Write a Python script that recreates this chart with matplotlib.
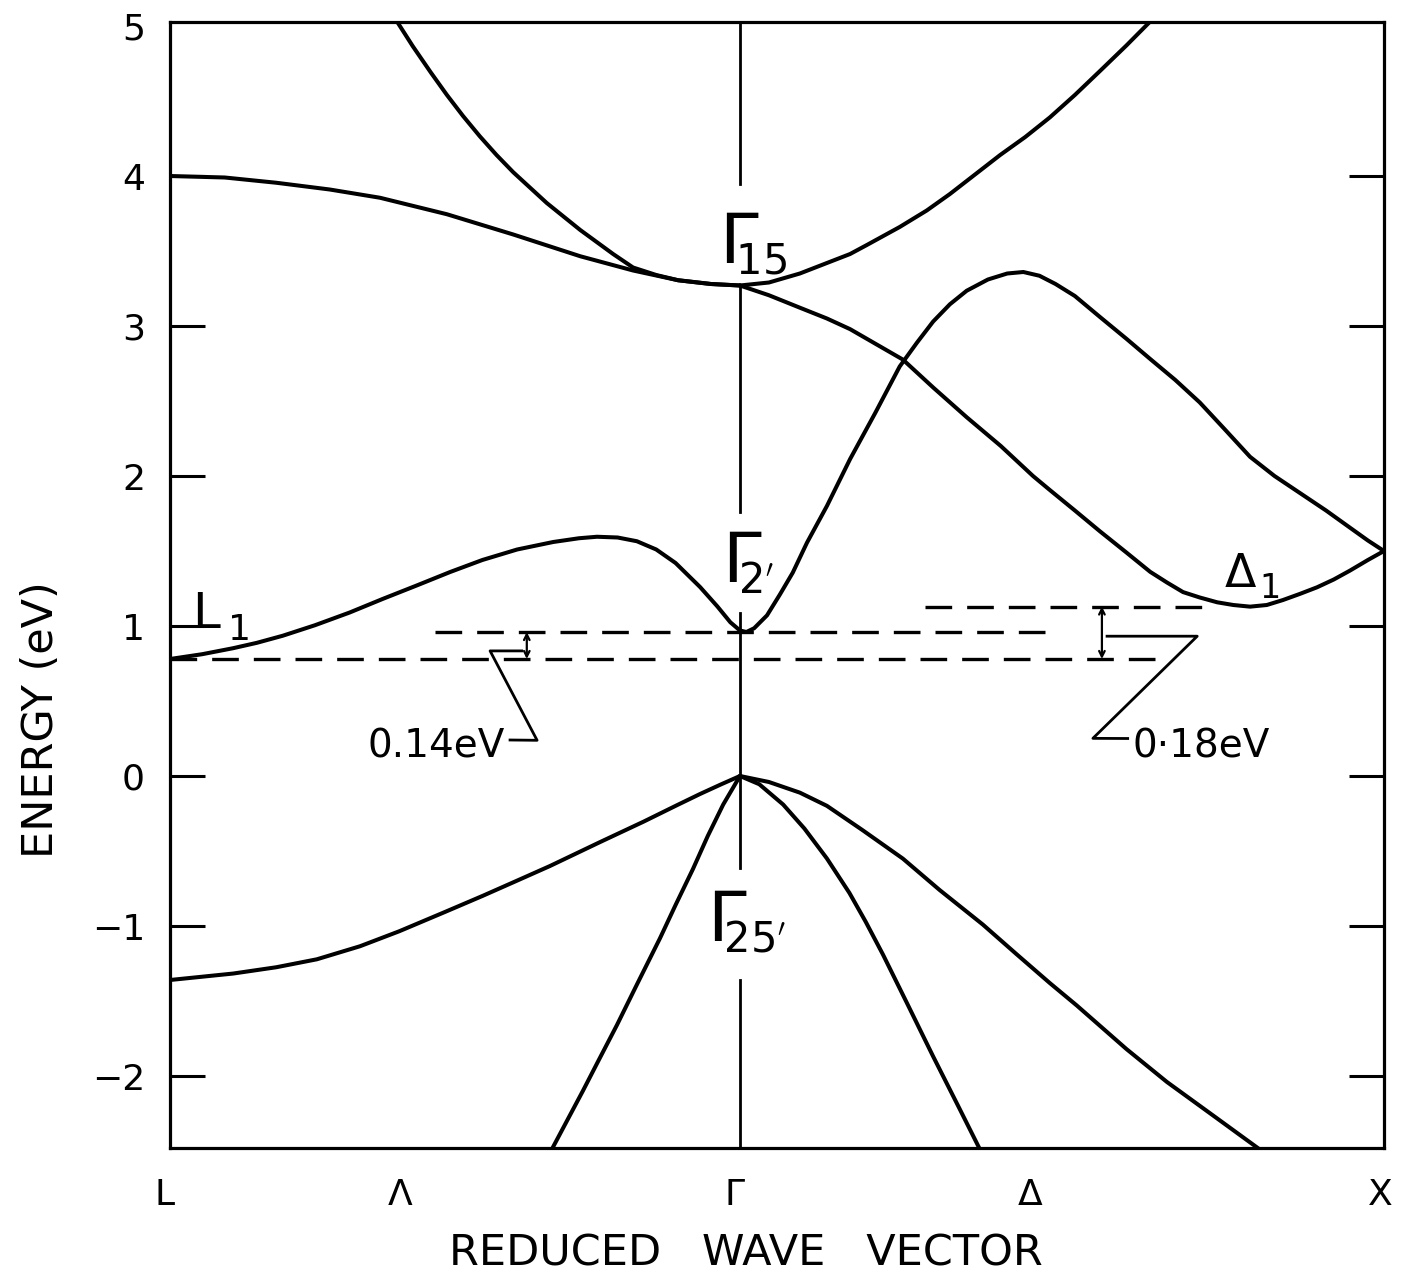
import matplotlib
matplotlib.use("Agg")
import matplotlib.pyplot as plt
import matplotlib._mathtext as mathtext_core
from matplotlib.transforms import blended_transform_factory

plt.rcParams['font.family'] = ['DejaVu Sans']
plt.rcParams['mathtext.fontset'] = 'dejavusans'
# smaller subscripts on the Gamma labels
mathtext_core.SHRINK_FACTOR = 0.6

# reduced wave vector: Gamma at 0, X at 1, L on the left
k_L = -0.885
k_X = 1.0
E_MIN, E_MAX = -2.48, 5.03

# ---- conduction bands ----
# L (4.0 eV) -> Gamma15
band_a_k = [-0.885, -0.80, -0.72, -0.637, -0.559, -0.455, -0.352, -0.248, -0.166, -0.096, -0.045, 0.0]
band_a_E = [4.00, 3.99, 3.955, 3.91, 3.855, 3.745, 3.61, 3.465, 3.37, 3.305, 3.28, 3.27]

# steep branch from the top coming into Gamma15
band_b_k = [-0.540, -0.508, -0.480, -0.455, -0.430, -0.404, -0.378, -0.352, -0.300, -0.248, -0.197, -0.166, -0.130, -0.096, -0.045, 0.0]
band_b_E = [5.08, 4.865, 4.69, 4.54, 4.40, 4.265, 4.14, 4.025, 3.82, 3.64, 3.48, 3.39, 3.34, 3.305, 3.28, 3.27]

# Gamma15 rising towards the top right
band_c_k = [0.0, 0.045, 0.093, 0.135, 0.171, 0.197, 0.248, 0.290, 0.326, 0.365, 0.404, 0.443, 0.481, 0.520, 0.559, 0.600, 0.637, 0.660]
band_c_E = [3.27, 3.29, 3.35, 3.42, 3.48, 3.54, 3.66, 3.77, 3.88, 4.01, 4.14, 4.26, 4.39, 4.54, 4.70, 4.87, 5.03, 5.13]

# Gamma15 falling through the crossing down to Delta1 and up to X
band_d_k = [0.0, 0.045, 0.093, 0.135, 0.171, 0.253, 0.300, 0.352, 0.405, 0.455, 0.481, 0.520, 0.559, 0.600, 0.637,
            0.663, 0.688, 0.714, 0.741, 0.766, 0.792, 0.818, 0.843, 0.870, 0.896, 0.922, 0.947, 0.975, 1.0]
band_d_E = [3.27, 3.205, 3.122, 3.05, 2.979, 2.776, 2.59, 2.392, 2.20, 2.00, 1.907, 1.77, 1.631, 1.49, 1.361,
            1.29, 1.226, 1.19, 1.158, 1.14, 1.129, 1.14, 1.173, 1.215, 1.258, 1.31, 1.369, 1.44, 1.50]

# L1 -> Gamma2' -> maximum on Delta -> X
band_e_k = [-0.885, -0.835, -0.787, -0.750, -0.710, -0.660, -0.606, -0.555, -0.502, -0.450, -0.400, -0.346, -0.290,
            -0.250, -0.222, -0.190, -0.160, -0.130, -0.100, -0.062, -0.035, -0.015, 0.0, 0.010, 0.022, 0.042, 0.062,
            0.082, 0.104, 0.135, 0.171, 0.210, 0.248, 0.275, 0.300, 0.326, 0.352, 0.385, 0.415, 0.440, 0.465, 0.490,
            0.520, 0.559, 0.600, 0.637, 0.676, 0.714, 0.753, 0.792, 0.830, 0.870, 0.910, 0.947, 0.975, 1.0]
band_e_E = [0.78, 0.812, 0.852, 0.888, 0.935, 1.005, 1.09, 1.18, 1.27, 1.36, 1.44, 1.51, 1.56,
            1.585, 1.595, 1.59, 1.565, 1.51, 1.42, 1.26, 1.13, 1.025, 0.97, 0.96, 0.985, 1.071, 1.21,
            1.356, 1.555, 1.80, 2.113, 2.42, 2.73, 2.89, 3.03, 3.145, 3.235, 3.31, 3.35, 3.36, 3.335, 3.28,
            3.20, 3.06, 2.915, 2.78, 2.64, 2.49, 2.31, 2.128, 2.0, 1.885, 1.77, 1.656, 1.57, 1.50]

# ---- valence bands ----
val_a_k = [-0.885, -0.787, -0.720, -0.657, -0.590, -0.529, -0.460, -0.400, -0.350, -0.295, -0.217, -0.150, -0.098, -0.062, -0.030, 0.0]
val_a_E = [-1.36, -1.317, -1.275, -1.222, -1.135, -1.035, -0.91, -0.80, -0.705, -0.60, -0.44, -0.305, -0.195, -0.12, -0.057, 0.0]

val_b_k = [0.0, -0.026, -0.050, -0.073, -0.100, -0.124, -0.160, -0.191, -0.220, -0.244, -0.270, -0.296]
val_b_E = [0.0, -0.19, -0.40, -0.62, -0.86, -1.08, -1.39, -1.66, -1.90, -2.10, -2.31, -2.52]

val_c_k = [0.0, 0.030, 0.067, 0.100, 0.135, 0.170, 0.195, 0.222, 0.260, 0.300, 0.340, 0.375]
val_c_E = [0.0, -0.055, -0.19, -0.35, -0.55, -0.78, -0.97, -1.19, -1.52, -1.87, -2.21, -2.51]

val_d_k = [0.0, 0.045, 0.093, 0.135, 0.190, 0.253, 0.310, 0.377, 0.430, 0.481, 0.523, 0.600, 0.663, 0.740, 0.812]
val_d_E = [0.0, -0.04, -0.111, -0.199, -0.36, -0.551, -0.76, -0.99, -1.19, -1.38, -1.53, -1.82, -2.04, -2.28, -2.505]

bands = [(band_a_k, band_a_E), (band_b_k, band_b_E), (band_c_k, band_c_E), (band_d_k, band_d_E),
         (band_e_k, band_e_E), (val_a_k, val_a_E), (val_b_k, val_b_E), (val_c_k, val_c_E), (val_d_k, val_d_E)]

# Gamma line, broken where the level labels sit
gamma_segments = [(E_MAX, 3.95), (3.27, 1.76), (1.09, -0.61), (-1.36, E_MIN)]

# energy levels used for the gap markers
E_L1 = 0.78
E_G2 = 0.96
E_D1 = 1.13
L1_span = (k_L, 0.652)
G2_span = (-0.474, 0.490)
D1_span = (0.287, 0.722)

# leader lines for the gap labels
lead14_k = [-0.357, -0.315, -0.388, -0.339]
lead14_E = [0.240, 0.238, 0.834, 0.834]
lead18_k = [0.602, 0.548, 0.710, 0.570]
lead18_E = [0.250, 0.251, 0.932, 0.932]
arrow14_k = -0.331
arrow18_k = 0.562

point_names = ['L', 'Λ', 'Γ', 'Δ', 'X']
point_pos = [-0.893, -0.528, -0.008, 0.450, 0.994]

ytick_vals = [-2, -1, 0, 1, 2, 3, 4, 5]
ytick_text = ['−2', '−1', '0', '1', '2', '3', '4', '5']

LW = 2.9
fig = plt.figure(figsize=(14.08, 12.74), dpi=100)
ax = fig.add_axes([170 / 1408, 1 - 1148 / 1274, 1214 / 1408, 1126.5 / 1274])
ax.set_xlim(k_L, k_X)
ax.set_ylim(E_MIN, E_MAX)

for kk, ee in bands:
    ax.plot(kk, ee, color='black', lw=LW, solid_capstyle='round', solid_joinstyle='round')

for top, bot in gamma_segments:
    ax.plot([0, 0], [top, bot], color='black', lw=2.0)

dash = (0, (8, 4.5))
ax.plot(L1_span, [E_L1, E_L1], color='black', lw=2.4, linestyle=dash)
ax.plot(G2_span, [E_G2, E_G2], color='black', lw=2.4, linestyle=dash)
ax.plot(D1_span, [E_D1, E_D1], color='black', lw=2.4, linestyle=dash)

ax.plot(lead14_k, lead14_E, color='black', lw=2.0)
ax.plot(lead18_k, lead18_E, color='black', lw=2.0)
arr = dict(arrowstyle='<->', lw=1.6, color='black', mutation_scale=10, shrinkA=0, shrinkB=0)
ax.annotate('', xy=(arrow14_k, E_G2), xytext=(arrow14_k, E_L1), arrowprops=arr)
ax.annotate('', xy=(arrow18_k, E_D1), xytext=(arrow18_k, E_L1), arrowprops=arr)

ax.text(-0.365, 0.20, '0.14eV', fontsize=28, ha='right', va='center')
ax.text(0.610, 0.20, '0·18eV', fontsize=28, ha='left', va='center')

# level labels, subscript tucked under the bar of the Gamma
ax.text(-0.033, 3.42, r"$\Gamma\!\!_{15}$", fontsize=50, ha='left', va='baseline')
ax.text(-0.028, 1.29, r"$\Gamma\!\!_{2'}$", fontsize=50, ha='left', va='baseline')
ax.text(-0.051, -1.10, r"$\Gamma\!\!_{25'}$", fontsize=50, ha='left', va='baseline')
ax.text(-0.851, 0.99, 'L', fontsize=36, ha='left', va='baseline')
ax.text(-0.795, 0.904, '1', fontsize=26, ha='left', va='baseline')
ax.text(0.753, 1.257, 'Δ', fontsize=33, ha='left', va='baseline')
ax.text(0.807, 1.188, '1', fontsize=24, ha='left', va='baseline')

# axes styling
for sp in ax.spines.values():
    sp.set_linewidth(2.3)
ax.set_yticks(ytick_vals)
ax.set_yticklabels(ytick_text, fontsize=26)
ax.tick_params(axis='y', which='major', direction='in', length=25, width=2.2,
               left=True, right=True, pad=18)
ax.yaxis.get_major_ticks()[-1].tick1line.set_visible(False)
ax.yaxis.get_major_ticks()[-1].tick2line.set_visible(False)
ax.set_xticks([])

trans = blended_transform_factory(ax.transData, ax.transAxes)
for name, pos in zip(point_names, point_pos):
    ax.text(pos, -0.042, name, transform=trans, fontsize=26, ha='center', va='center', clip_on=False)

ax.set_xlabel('REDUCED   WAVE   VECTOR', fontsize=31, va='baseline')
ax.xaxis.set_label_coords(0.474, -0.104)
ax.set_ylabel('ENERGY (eV)', fontsize=31)
ax.yaxis.set_label_coords(-0.089, 0.38)

fig.savefig('out.png', dpi=100, facecolor='white')
